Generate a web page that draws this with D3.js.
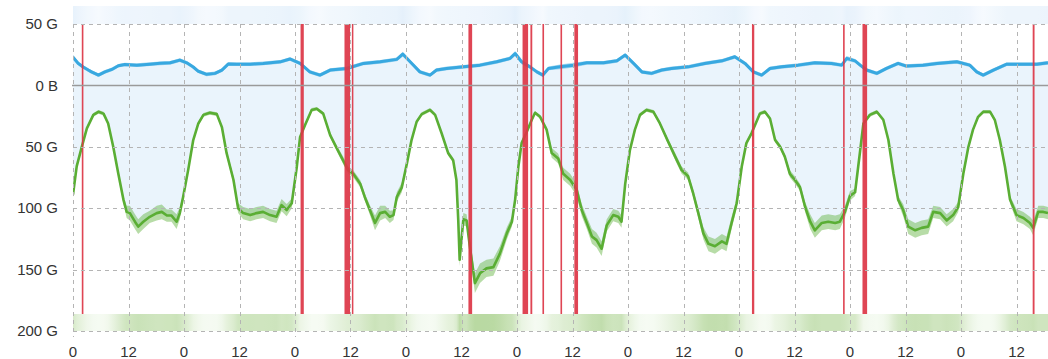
<!DOCTYPE html>
<html><head><meta charset="utf-8">
<script src="https://cdn.jsdelivr.net/npm/d3@7"></script>
<style>html,body{margin:0;padding:0;background:#fff;overflow:hidden}svg{display:block;font-family:"Liberation Sans",Arial,sans-serif}</style>
</head><body><svg id="chart" width="1048" height="359"></svg>
<script>
// ---- data ----
const xTickHours = [0,12,24,36,48,60,72,84,96,108,120,132,144,156,168,180,192,204];
const xTickLabels = ["0","12","0","12","0","12","0","12","0","12","0","12","0","12","0","12","0","12"];
const yTickValues = [-50,0,50,100,150,200];
const yTickLabels = ["50 G","0 B","50 G","100 G","150 G","200 G"];

// [hour, GB, band half-width]
const inTraffic = [[0.0,23,2],[1.1,18,1.5],[2.2,15,1.5],[3.3,12.5,1.5],[4.0,11,1.5],[5.5,8.4,1.5],[6.9,11,1.5],[8.4,13,1.5],[9.8,16,1.5],[11.2,17,1.5],[13.8,16.5,1.5],[16.6,17.3,1.5],[18.8,18,1.5],[21.0,18.4,1.5],[23.1,20.6,1.5],[24.6,18.4,1.5],[26.0,15,1.5],[27.1,11.5,1.5],[28.9,9,1.5],[30.7,9.8,1.5],[32.2,12.5,1.5],[33.6,17.5,1.5],[35.4,17.3,1.5],[38.3,17.3,1.5],[41.1,17.9,1.5],[44.8,19.2,1.5],[46.9,21.5,1.5],[49.1,17.9,1.5],[51.2,11,1.5],[53.4,8.4,1.5],[55.6,12.5,1.5],[59.2,13.8,1.5],[62.8,17.9,1.5],[66.4,19.2,1.5],[70.0,21.2,1.5],[71.3,25.5,2],[72.9,19.2,1.5],[75.0,11,1.5],[77.2,8.4,1.5],[78.6,12.5,1.5],[80.8,13.8,1.5],[84.4,15.1,1.5],[88.0,16.5,1.5],[91.6,19.2,1.5],[94.5,22,1.5],[95.6,26,2],[97.0,19.2,2],[98.8,15.1,1.5],[100.3,11,1.5],[101.6,8.4,1.5],[102.8,13.8,1.5],[105.3,15.1,2],[108.2,16.5,2],[111.1,18.4,1.5],[114.7,18.4,1.5],[117.6,20,1.5],[119.4,24.7,1.5],[121.2,17.9,1.5],[123.0,11,1.5],[125.1,9.8,1.5],[127.3,12.5,1.5],[129.4,13.8,1.5],[133.0,15.1,1.5],[136.6,17.9,1.5],[140.3,20,1.5],[143.1,23.3,1.5],[145.3,17.9,1.5],[147.1,11,1.5],[148.9,8.4,1.5],[150.7,13.8,1.5],[153.2,15.1,1.5],[156.8,16.5,1.5],[160.4,18.4,1.5],[164.0,17.9,1.5],[166.2,16.5,1.5],[167.3,22,2],[169.1,20,1.5],[170.2,16.5,1.5],[171.6,12.5,1.5],[173.8,9.8,1.5],[175.9,13.8,1.5],[178.4,17.9,1.5],[180.2,15.7,1.5],[183.8,16.5,1.5],[186.8,17.9,1.5],[191.1,19.2,1.5],[193.9,16.5,1.5],[195.4,11,1.5],[196.8,8.4,1.5],[199.0,12.5,1.5],[201.9,17.3,1.5],[205.5,17.3,1.5],[208.4,17.3,1.5],[210.8,18.4,1.5]];

const outTraffic = [[0.0,89,2],[0.8,66,2],[1.9,50,1.5],[3.0,35,1.5],[4.4,24,1.5],[5.5,21.5,1.5],[6.6,23,1.5],[7.6,31,1.5],[8.7,50,2],[9.8,72,2.5],[10.9,93,3],[11.6,103,5],[12.3,104,6],[13.4,111,6],[14.1,115,6],[15.2,111,6],[16.6,107,5],[18.1,104,6],[19.2,103,6],[20.3,106,5],[21.3,106,5],[22.4,111,6],[23.1,104,5],[23.8,91,3],[24.9,69,2],[26.0,44.5,1.5],[27.1,31,1.5],[28.2,24,1.5],[29.6,22.3,1.5],[31.1,23.4,1.5],[32.2,34,1.5],[33.2,55,2],[34.7,77,3],[35.7,100,4],[36.8,104,5],[38.3,105.6,5],[39.7,104,5],[41.1,103,5],[42.6,105.6,5],[44.0,107,5],[45.1,97.5,5],[46.2,101.5,5],[47.3,96,4],[48.4,66,2],[49.1,42,1.5],[50.2,32,1.5],[51.6,20,1.5],[52.7,19,1.5],[54.1,23,1.5],[55.6,40.5,2],[57.0,51,2.5],[58.4,61,3],[59.5,69,3],[60.6,72,3],[62.1,80,3],[63.1,91,3],[64.2,101.5,4],[65.3,112,6],[66.4,104,6],[67.5,103,5],[68.5,107,5],[69.3,105.6,4],[70.0,91,4],[71.1,83,4],[72.2,63.5,2],[73.2,44.5,1.5],[74.3,29.6,1.5],[75.4,23.4,1.5],[77.2,20,1.5],[78.3,24,1.5],[79.7,39,1.5],[81.1,55,2],[82.2,61,2],[82.9,77,3],[83.3,110,5],[83.6,142,5],[84.4,109,5],[85.1,110,5],[85.8,131,6],[86.9,161,8],[88.0,153,8],[89.4,149,7],[90.9,148,7],[92.3,137,6],[93.8,120.5,5],[94.9,111,4],[95.6,93,3],[96.3,66,2],[97.0,47,2],[98.1,38,2],[99.2,28,1.5],[99.9,22.3,1.5],[101.0,25.6,1.5],[102.4,36,2],[103.5,55,4],[104.9,59.5,4],[106.0,72,5],[107.5,77,5],[108.9,85,5],[110.0,101.5,5],[111.1,112,5],[112.2,123,6],[113.2,126,6],[114.3,133,6],[115.4,114,5],[116.8,105.6,5],[117.9,107,5],[118.6,111,5],[119.4,80,3],[120.4,53,2],[121.5,36,1.5],[122.6,24,1.5],[124.0,20,1.5],[125.5,21.5,1.5],[126.9,31,1.5],[128.7,46,2],[130.2,58,3],[131.6,69,3],[133.0,74,3],[134.1,88,3],[135.2,104,4],[136.3,120.5,5],[137.4,129,6],[138.8,131,6],[140.3,127,6],[141.3,129,6],[142.4,112,5],[143.5,96,4],[144.6,66,2],[145.6,47,2],[146.7,39,1.5],[147.5,32,1.5],[148.5,23,1.5],[149.6,21.5,1.5],[150.7,27,1.5],[151.8,44.5,2],[152.9,50,2],[153.9,58,2],[155.0,72,3],[156.1,77,3],[157.2,83,3],[158.3,99,4],[159.4,111,6],[160.4,118,6],[161.9,112,6],[163.3,111,6],[164.8,112,6],[165.8,111,6],[166.9,103,5],[168.0,90,4],[169.1,87,3],[170.2,53,2],[170.9,31,1.5],[172.3,24,1.5],[173.8,21.5,1.5],[175.2,28,1.5],[176.3,44.5,2],[177.4,72,2],[178.4,93,3],[179.5,101.5,5],[180.6,115,6],[182.1,118,6],[183.5,116,6],[184.9,115,6],[186.0,103,5],[187.5,104,5],[188.9,110,5],[190.3,105.6,5],[191.4,99,4],[192.5,72,2],[193.6,50,2],[194.6,36,1.5],[195.7,25.6,1.5],[196.8,21.5,1.5],[198.3,21.5,1.5],[199.3,28,1.5],[200.4,44.5,2],[201.5,66,2],[202.6,93,3],[204.0,105.6,5],[205.5,108,5],[206.9,112,5],[207.6,116,6],[208.7,103,5],[209.8,103,5],[210.8,104,5]];

// [start hour, end hour]
const events = [[1.9,2.25],[49.2,49.9],[58.7,59.9],[60.3,60.6],[85.5,86.3],[97.2,98.4],[98.9,99.3],[101.5,101.85],[105.4,105.75],[108.4,109.2],[146.8,147.3],[166.5,166.85],[170.7,171.7],[207.5,207.9]];

// ---- chart ----
const svg = d3.select("#chart");
const hourPx = 55.5/12;
const x = d3.scaleLinear().domain([0,211]).range([73, 73+211*hourPx]);
const y = d3.scaleLinear().domain([-50,200]).range([24,331]);
const plotL = 73, plotR = 1048;

const defs = svg.append("defs");
defs.append("clipPath").attr("id","clip").append("rect")
  .attr("x",plotL).attr("y",0).attr("width",plotR-plotL).attr("height",359);

function gradient(id, data, color){
  const g = defs.append("linearGradient").attr("id",id)
    .attr("gradientUnits","userSpaceOnUse")
    .attr("x1",x(0)).attr("x2",x(211)).attr("y1",0).attr("y2",0);
  data.forEach(d=>{
    g.append("stop").attr("offset",(d[0]/211)).attr("stop-color",color(d[1]));
  });
}
const inColor = d3.scaleLinear().domain([8,26]).range(["#f6fafe","#e4f0fb"]).clamp(true);
const outColor = d3.scaleLinear().domain([20,150]).range(["#f6fbf3","#b9d9a2"]).clamp(true);
gradient("gIn", inTraffic, inColor);
gradient("gOut", outTraffic, outColor);

const plot = svg.append("g").attr("clip-path","url(#clip)");

// heat strips
plot.append("rect").attr("x",plotL).attr("width",plotR-plotL).attr("y",6).attr("height",y(-50)-6).attr("fill","url(#gIn)");
plot.append("rect").attr("x",plotL).attr("width",plotR-plotL).attr("y",314).attr("height",y(200)-314).attr("fill","url(#gOut)");

// fills
const fillColor = "#eaf4fc";
plot.append("path").datum(inTraffic)
  .attr("d", d3.area().x(d=>x(d[0])).y0(y(0)).y1(d=>y(-d[1])))
  .attr("fill",fillColor);
plot.append("path").datum(outTraffic)
  .attr("d", d3.area().x(d=>x(d[0])).y0(y(0)).y1(d=>y(d[1])))
  .attr("fill",fillColor);

// grid
const grid = svg.append("g").attr("clip-path","url(#clip)");
yTickValues.forEach(v=>{
  if(v===0) return;
  grid.append("line").attr("x1",plotL).attr("x2",plotR).attr("y1",Math.round(y(v))+0.5).attr("y2",Math.round(y(v))+0.5)
    .attr("stroke","#b4b4b4").attr("stroke-dasharray","4,4");
});
xTickHours.forEach(h=>{
  grid.append("line").attr("x1",Math.round(x(h))+0.5).attr("x2",Math.round(x(h))+0.5).attr("y1",y(-50)).attr("y2",337)
    .attr("stroke","#b4b4b4").attr("stroke-dasharray","4,4");
});
svg.append("line").attr("x1",plotL-1).attr("x2",plotR).attr("y1",y(0)).attr("y2",y(0))
  .attr("stroke","#9a9a9a").attr("stroke-width",1.5);

// min/max bands
plot.append("path").datum(inTraffic)
  .attr("d", d3.area().x(d=>x(d[0])).y0(d=>y(-(d[1]-d[2]))).y1(d=>y(-(d[1]+d[2]))))
  .attr("fill","rgba(60,170,225,0.45)");
plot.append("path").datum(outTraffic)
  .attr("d", d3.area().x(d=>x(d[0])).y0(d=>y(d[1]-d[2])).y1(d=>y(d[1]+d[2])))
  .attr("fill","rgba(95,178,60,0.45)");

// lines
plot.append("path").datum(inTraffic)
  .attr("d", d3.line().x(d=>x(d[0])).y(d=>y(-d[1])))
  .attr("fill","none").attr("stroke","#38a8e0").attr("stroke-width",3).attr("stroke-linejoin","round");
plot.append("path").datum(outTraffic)
  .attr("d", d3.line().x(d=>x(d[0])).y(d=>y(d[1])))
  .attr("fill","none").attr("stroke","#5aae34").attr("stroke-width",2.6).attr("stroke-linejoin","round");

// events
plot.selectAll("rect.ev").data(events).enter().append("rect").attr("class","ev")
  .attr("x",d=>x(d[0])).attr("width",d=>Math.max(1.5,x(d[1])-x(d[0])))
  .attr("y",y(-50)).attr("height",314-y(-50))
  .attr("fill","#dc3545").attr("opacity",0.92);

// y labels
svg.append("g").selectAll("text").data(yTickValues).enter().append("text")
  .attr("x",58).attr("y",d=>y(d)).attr("dy","0.35em").attr("text-anchor","end")
  .attr("font-size",15).attr("fill","#333")
  .text((d,i)=>yTickLabels[i]);

// x labels
svg.append("g").selectAll("text").data(xTickHours).enter().append("text")
  .attr("x",d=>x(d)).attr("y",357).attr("text-anchor","middle")
  .attr("font-size",15).attr("fill","#333")
  .text((d,i)=>xTickLabels[i]);
</script></body></html>
